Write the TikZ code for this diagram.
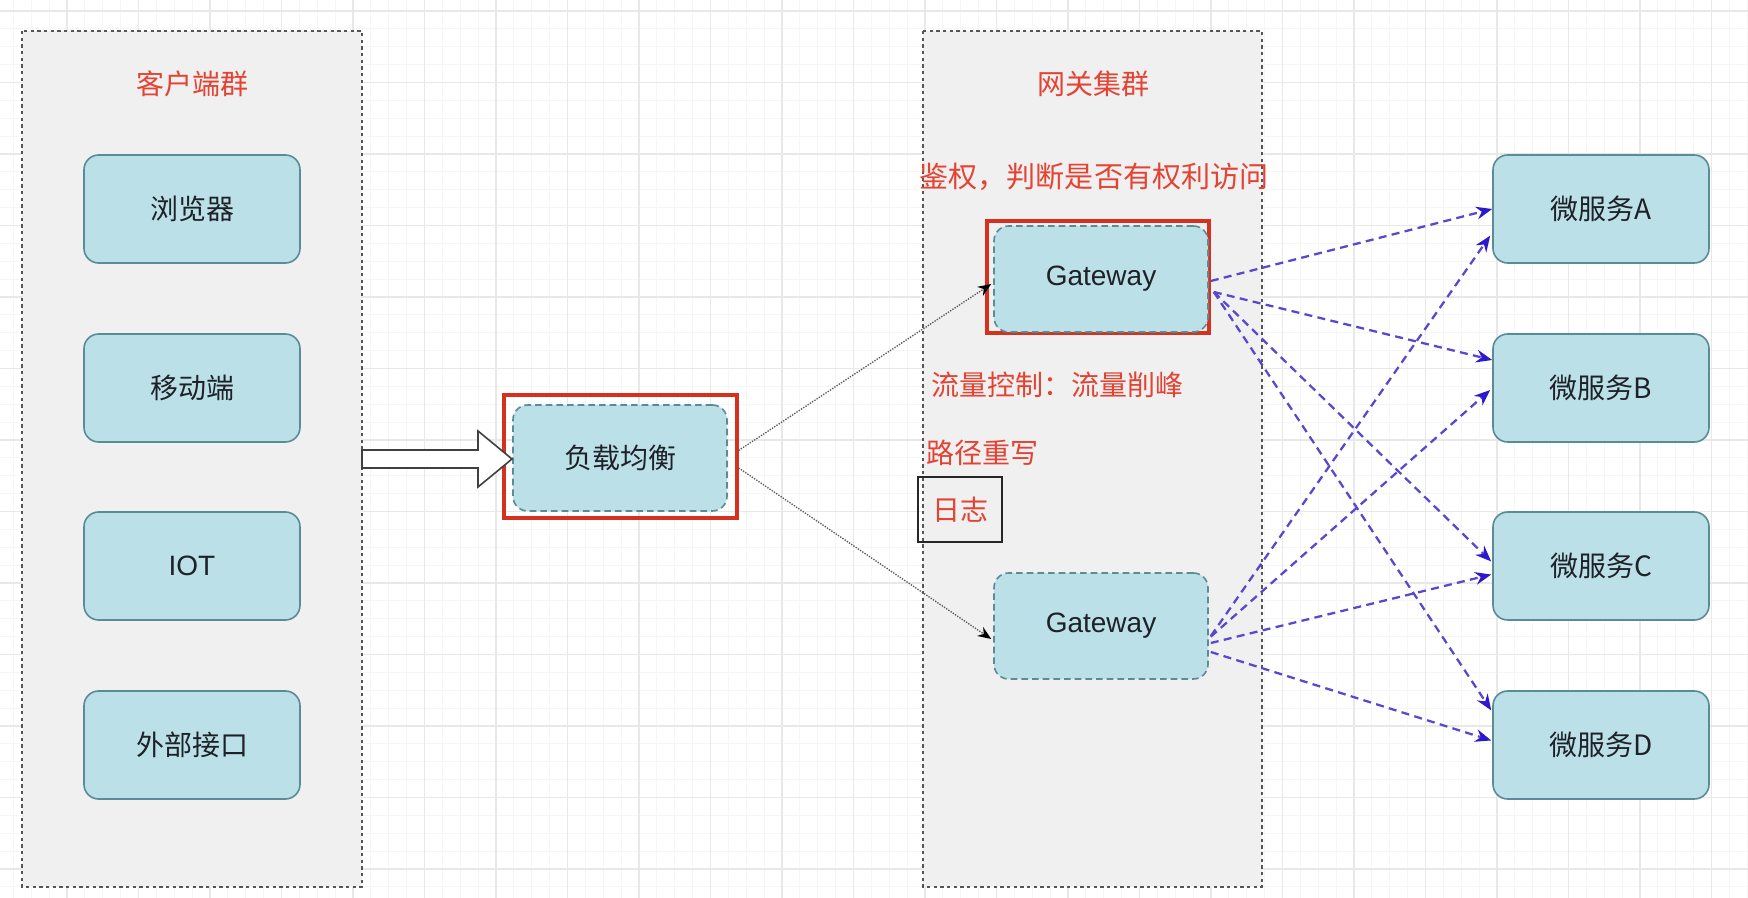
\documentclass[tikz,border=0pt]{standalone}
\usepackage{fontspec}
\setmainfont{Liberation Sans}
\newfontfamily\cjk{Noto Sans CJK SC}
\usetikzlibrary{arrows.meta}
\definecolor{boxfill}{RGB}{188,224,232}
\definecolor{boxline}{RGB}{90,140,152}
\definecolor{contfill}{RGB}{240,240,240}
\definecolor{contline}{RGB}{85,85,85}
\definecolor{redtxt}{RGB}{228,66,50}
\definecolor{redline}{RGB}{214,48,30}
\definecolor{bluearr}{RGB}{88,72,205}
\definecolor{bluehead}{RGB}{45,25,205}
\definecolor{gridminor}{RGB}{246,246,246}
\definecolor{gridmajor}{RGB}{232,232,232}
\definecolor{darktxt}{RGB}{30,34,40}
\tikzset{
  container/.style={draw=contline, fill=contfill, line width=1.3pt, dash pattern=on 2.5pt off 2.5pt},
  svcbox/.style={draw=boxline, fill=boxfill, line width=1.2pt, rounded corners=11pt,
    minimum width=162pt, minimum height=81pt, font=\cjk\fontsize{21}{24}\selectfont, text=darktxt},
  dashbox/.style={svcbox, dash pattern=on 5pt off 3pt, minimum width=160.5pt, minimum height=79.5pt},
  gwbox/.style={dashbox, font=\fontsize{21}{24}\selectfont},
  selrect/.style={draw=redline, line width=2.4pt},
  redlabel/.style={font=\cjk\fontsize{21}{24}\selectfont, text=redtxt, inner sep=0pt},
  thinarr/.style={draw=black!65, line width=1pt, densely dotted, -{Stealth[length=10pt,width=8pt,fill=black,color=black]}},
  bluearrow/.style={draw=bluearr, line width=1.7pt, dash pattern=on 6pt off 4pt,
    -{Stealth[length=12pt,width=9.5pt,fill=bluehead,color=bluehead]}},
  blockarrow/.style={draw=black!75, fill=white, line width=1.2pt, line join=miter}
}
\begin{document}
\begin{tikzpicture}[x=0.75pt,y=-0.75pt]
\useasboundingbox (0,0) rectangle (1748,898);
\fill[white] (0,0) rectangle (1748,898);
% grid
\foreach \k in {0,...,98} { \draw[gridminor, line width=0.6pt] ({-4.5+17.875*\k},0) -- ({-4.5+17.875*\k},898); }
\foreach \k in {0,...,51} { \draw[gridminor, line width=0.6pt] (0,{11+17.875*(\k-1)}) -- (1748,{11+17.875*(\k-1)}); }
\foreach \k in {1,...,24} { \draw[gridmajor, line width=1pt] ({-4.5+71.5*\k},0) -- ({-4.5+71.5*\k},898); }
\foreach \k in {0,...,12} { \draw[gridmajor, line width=1pt] (0,{11+71.5*\k}) -- (1748,{11+71.5*\k}); }

% containers
\draw[container] (22,31) rectangle (362,887);
\draw[container] (923,31) rectangle (1262,887);
\node[redlabel] (ctitle) at (192,84) {客户端群};
\node[redlabel] (gtitle) at (1093,84) {网关集群};

% clients
\node[svcbox] (browser) at (192,209) {浏览器};
\node[svcbox] (mobile) at (192,388) {移动端};
\node[svcbox, font=\fontsize{21}{24}\selectfont] (iot) at (192,566) {IOT};
\node[svcbox] (extapi) at (192,745) {外部接口};

% load balancer
\node[selrect, minimum width=174.75pt, minimum height=92.25pt] (lbsel) at (620.5,456.5) {};
\node[dashbox] (lb) at (620,458) {负载均衡};

% gateways
\node[selrect, minimum width=166.5pt, minimum height=84pt] (gwsel) at (1098,277) {};
\node[gwbox] (gw1) at (1101,279) {Gateway};
\node[gwbox] (gw2) at (1101,626) {Gateway};

% gateway annotations
\node[redlabel, font=\cjk\fontsize{21.8}{26}\selectfont] (auth) at (1094,177) {鉴权，判断是否有权利访问};
\node[redlabel, anchor=west] (flow) at (931,385) {流量控制：流量削峰};
\node[redlabel, anchor=west] (rewrite) at (926,453) {路径重写};
\node[redlabel, draw=black!85, line width=0.9pt, minimum width=63pt, minimum height=48.75pt] (log) at (960,509.5) {日志};

% microservices
\node[svcbox] (msA) at (1601,209) {微服务A};
\node[svcbox] (msB) at (1601,388) {微服务B};
\node[svcbox] (msC) at (1601,566) {微服务C};
\node[svcbox] (msD) at (1601,745) {微服务D};

% block arrow from clients to load balancer
\coordinate (bas) at (362,459);
\coordinate (bat) at (512,459);
\draw[blockarrow] (bas) ++(0,-9) -- ++(116,0) -- ++(0,-19) -- (bat) -- ++(-34,28) -- ++(0,-19) -- ++(-116,0) -- cycle;

% load balancer to gateways
\draw[thinarr] ([yshift=4.5pt]lbsel.east) -- ([xshift=-1.5pt,yshift=-3.75pt]gw1.west);
\draw[thinarr] ([yshift=-8.6pt]lbsel.east) -- ([xshift=-1.5pt,yshift=-9.75pt]gw2.west);

% gateway 1 to services
\draw[bluearrow] ([xshift=1.5pt,yshift=-1.5pt]gw1.east) -- (msA.west);
\draw[bluearrow] ([xshift=3.75pt,yshift=-9.75pt]gw1.east) -- ([yshift=21pt]msB.west);
\draw[bluearrow] ([xshift=3.75pt,yshift=-9.75pt]gw1.east) -- ([xshift=-0.75pt,yshift=3.4pt]msC.west);
\draw[bluearrow] ([xshift=3.75pt,yshift=-9.75pt]gw1.east) -- ([xshift=-0.75pt,yshift=26pt]msD.west);

% gateway 2 to services
\draw[bluearrow] ([xshift=1.5pt,yshift=-7.5pt]gw2.east) -- ([xshift=-1.5pt,yshift=-20pt]msA.west);
\draw[bluearrow] ([xshift=1.5pt,yshift=-8pt]gw2.east) -- ([xshift=-1.5pt,yshift=-1.5pt]msB.west);
\draw[bluearrow] ([xshift=1.5pt,yshift=-12.75pt]gw2.east) -- ([xshift=-0.75pt,yshift=-6.4pt]msC.west);
\draw[bluearrow] ([xshift=1.5pt,yshift=-19.5pt]gw2.east) -- ([xshift=-0.75pt,yshift=3.4pt]msD.west);
\end{tikzpicture}
\end{document}
